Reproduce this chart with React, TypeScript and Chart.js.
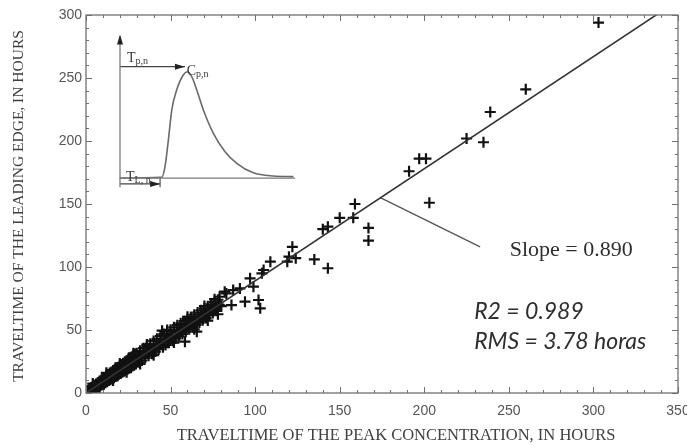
import React, { useEffect, useRef } from "react";
import { Chart, registerables } from "chart.js";

Chart.register(...registerables);

// ---- axis ranges / ticks ----
const xTickValues = [0, 50, 100, 150, 200, 250, 300, 350];
const yTickValues = [0, 50, 100, 150, 200, 250, 300];
const xTitle = "TRAVELTIME OF THE PEAK CONCENTRATION, IN HOURS";
const yTitle = "TRAVELTIME OF THE LEADING EDGE, IN HOURS";

// ---- observations: travel time of peak (x) vs leading edge (y), hours ----
const peakTime = [
  0.3, 0.8, 1, 1.5, 2, 2.5, 3, 3, 3.5, 4, 4.5, 5, 5.5, 6, 6.5, 7, 7.5, 8, 8.5, 9, 9, 9.5,
  10, 10.5, 11, 11.5, 12, 12.5, 13, 13.5, 14, 14.5, 15, 15, 15.5, 16, 16.5, 17, 17.5, 18,
  18.5, 19, 19.5, 20, 20.5, 21, 21, 21.5, 22, 22.5, 23, 23.5, 24, 24.5, 25, 25.5, 26,
  26.5, 27, 27, 27.5, 28, 28.5, 29, 29.5, 30, 31, 32, 33, 33, 34, 35, 36, 37, 38, 39, 39,
  40, 41, 42, 43, 44, 44, 45, 45.5, 46, 47, 48, 49, 50, 50, 51, 52, 53, 54, 55, 56, 56,
  57, 58, 58.5, 59, 60, 61, 62, 62, 63, 64, 65, 65.5, 66, 67, 68, 68, 69, 70, 71, 72,
  73, 74, 74, 75, 76, 77, 78, 79, 79, 80, 82, 83, 86, 87, 91, 94, 97, 99, 102, 103,
  104, 105, 109, 119, 120, 122, 124, 135, 140, 143, 143, 150, 158, 159, 167, 167, 191,
  197, 201, 203, 225, 235, 239, 260, 303,
  0.7, 2.2, 3.8, 5.2, 6.8, 8.3, 9.7, 11.2, 12.8, 14.3, 15.8, 17.2, 18.8, 20.3, 21.8, 23.3,
  24.8, 26.2, 27.8, 29.3, 30.6, 31.8, 33.2, 34.6, 36.1, 37.4, 38.7, 40.2, 41.6, 43.1, 44.6,
  46.2, 47.7, 49.2, 50.8, 52.3, 53.8, 55.4, 56.9, 58.4, 60.0, 61.5, 63.1, 64.6, 66.2, 67.7,
  69.3, 70.8, 72.4, 73.9, 75.5, 77.0, 78.5,
  4, 8, 12, 16, 20, 24, 28, 32, 36, 40, 48, 52, 60, 64, 70, 72, 76, 78,
];
const leadingEdge = [
  0.2, 1.2, 1.9, 0.4, 3.1, 1.0, 4.2, 2.8, 1.8, 5.0, 2.6, 6.1, 3.4, 7.2, 4.1, 8.3, 4.9,
  9.6, 5.8, 10.4, 8.1, 6.5, 11.8, 7.3, 12.4, 8.2, 13.9, 9.0, 14.6, 9.9, 15.8, 10.6, 16.7,
  13.2, 11.5, 17.9, 12.2, 18.6, 13.1, 19.8, 13.9, 20.5, 14.8, 21.9, 15.4, 22.6, 18.9,
  16.5, 23.7, 17.2, 24.8, 18.1, 25.5, 18.8, 26.9, 19.7, 27.6, 20.3, 28.8, 24.1, 21.4,
  29.7, 22.0, 30.9, 23.1, 31.6, 24.4, 33.5, 25.8, 29.4, 35.6, 27.9, 37.4, 29.6, 39.1,
  31.2, 34.8, 41.3, 32.9, 43.0, 34.8, 45.2, 39.3, 49.5, 36.4, 46.8, 38.1, 48.6, 39.9,
  50.2, 44.6, 41.5, 52.1, 43.4, 53.8, 45.0, 55.3, 49.8, 46.9, 57.0, 40.7, 48.6, 58.8,
  50.5, 60.4, 55.4, 52.3, 62.1, 54.0, 48.7, 63.8, 55.9, 65.6, 60.1, 57.8, 67.1, 59.6,
  68.9, 61.7, 70.4, 66.0, 63.5, 72.3, 65.2, 74.0, 76.4, 69.5, 68.9, 80.4, 79, 69.8, 81.7,
  83, 72.5, 91, 84.4, 73.8, 67.2, 95, 97.6, 104.2, 104.2, 108.2, 116, 107, 106, 130,
  132, 99, 139, 139, 150, 131, 121, 176, 186, 186, 151, 202, 199, 223, 241, 294,
  0.5, 2.0, 3.5, 4.4, 6.2, 7.3, 8.8, 9.8, 11.6, 12.5, 14.2, 15.1, 16.9, 17.8, 19.6, 20.5,
  22.3, 23.1, 24.9, 25.8, 27.6, 28.0, 29.9, 30.5, 32.4, 33.0, 34.9, 35.5, 37.4, 38.0, 40.0,
  40.8, 42.6, 43.3, 45.4, 46.1, 48.2, 48.9, 50.8, 51.6, 53.6, 54.3, 56.4, 57.1, 59.0, 59.9,
  61.8, 62.6, 64.6, 65.4, 67.3, 68.2, 70.2,
  7.5, 3.5, 16.0, 10.0, 23.5, 16.5, 31.5, 23.0, 38.5, 30.0, 50.0, 40.0, 60.5, 50.5, 69.0,
  57.5, 74.5, 62.5,
];

// ---- regression line (slope 0.890) ----
const fitX = [0, 338];
const fitY = [0, 300.8];

// ---- callout line from regression line to the slope label ----
const calloutX = [174, 233];
const calloutY = [155, 116];

// ---- inset sketch of a concentration curve, drawn in the main chart's units ----
const insetT = [20.1, 44.8, 46.7, 48.7, 50.7, 53.6, 57.5, 59.9, 62.5, 65.5, 69.4, 75.3, 82.2, 89.1, 98.9, 110.8, 122.6];
const insetC = [170.6, 171.2, 179.6, 200.8, 224.6, 240.5, 252.4, 255.0, 251.0, 240.5, 224.6, 206.1, 191.5, 182.3, 174.8, 172.2, 171.7];
const insetAxisT = [20.1, 20.1, 123.6];
const insetAxisC = [283, 170.6, 170.6];
const insetLeftDropT = [20.1, 20.1];
const insetLeftDropC = [170.6, 163.2];
const insetTpArrowT = [20.1, 58.5];
const insetTpArrowC = [259, 259];
const insetTlArrowT = [20.1, 43.8];
const insetTlArrowC = [165.9, 165.9];
const insetTlTickT = [43.8, 43.8];
const insetTlTickC = [170.6, 163.2];

// ---- annotation texts (anchor positions in data units) ----
const slopeText = "Slope = 0.890";
const slopeAt = [250.5, 113.5];
const r2Text = "R2 = 0.989";
const r2At = [229.5, 64.3];
const rmsText = "RMS = 3.78 horas";
const rmsAt = [229.5, 40.5];

const SERIF = '"Liberation Serif", "Times New Roman", serif';
const SANS = '"Liberation Sans", Arial, sans-serif';

function pts(xs: number[], ys: number[]) {
  return xs.map((x, i) => ({ x, y: ys[i] }));
}

function drawSub(ctx: CanvasRenderingContext2D, main: string, sub: string, x: number, y: number) {
  ctx.font = `14px ${SERIF}`;
  ctx.textAlign = "left";
  ctx.textBaseline = "alphabetic";
  ctx.fillText(main, x, y);
  const w = ctx.measureText(main).width;
  ctx.font = `10px ${SERIF}`;
  ctx.fillText(sub, x + w, y + 2);
}

function arrowHead(ctx: CanvasRenderingContext2D, x: number, y: number, dir: "right" | "up") {
  ctx.beginPath();
  if (dir === "right") {
    ctx.moveTo(x, y);
    ctx.lineTo(x - 10, y - 3);
    ctx.lineTo(x - 10, y + 3);
  } else {
    ctx.moveTo(x, y);
    ctx.lineTo(x - 3, y + 10);
    ctx.lineTo(x + 3, y + 10);
  }
  ctx.closePath();
  ctx.fill();
}

const framePlugin = {
  id: "framePlugin",
  afterDraw(chart: any) {
    const { ctx, chartArea: a, scales } = chart;
    const xs = scales.x;
    const ys = scales.y;
    ctx.save();
    // frame
    ctx.strokeStyle = "#707070";
    ctx.lineWidth = 1.3;
    ctx.strokeRect(a.left, a.top, a.right - a.left, a.bottom - a.top);
    // inward ticks
    ctx.lineWidth = 1;
    ctx.beginPath();
    for (let v = 0; v <= 350; v += 10) {
      const p = Math.round(xs.getPixelForValue(v)) + 0.5;
      const len = v % 50 === 0 ? 6 : 3;
      ctx.moveTo(p, a.bottom);
      ctx.lineTo(p, a.bottom - len);
      ctx.moveTo(p, a.top);
      ctx.lineTo(p, a.top + len);
    }
    for (let v = 0; v <= 300; v += 10) {
      const p = Math.round(ys.getPixelForValue(v)) + 0.5;
      const len = v % 50 === 0 ? 6 : 3;
      ctx.moveTo(a.left, p);
      ctx.lineTo(a.left + len, p);
      ctx.moveTo(a.right, p);
      ctx.lineTo(a.right - len, p);
    }
    ctx.stroke();

    // axis titles
    ctx.fillStyle = "#404040";
    ctx.font = `16.5px ${SERIF}`;
    ctx.textAlign = "center";
    ctx.textBaseline = "middle";
    ctx.fillText(xTitle, 396, 436);
    ctx.font = `15.5px ${SERIF}`;
    ctx.save();
    ctx.translate(19, 206);
    ctx.rotate(-Math.PI / 2);
    ctx.fillText(yTitle, 0, 0);
    ctx.restore();

    // inset arrows and labels
    ctx.fillStyle = "#222";
    const ax = xs.getPixelForValue(insetAxisT[0]);
    arrowHead(ctx, ax, ys.getPixelForValue(insetAxisC[0]) - 2, "up");
    arrowHead(ctx, xs.getPixelForValue(insetTpArrowT[1]), ys.getPixelForValue(insetTpArrowC[1]), "right");
    arrowHead(ctx, xs.getPixelForValue(insetTlArrowT[1]), ys.getPixelForValue(insetTlArrowC[1]), "right");
    ctx.fillStyle = "#3a3a3a";
    drawSub(ctx, "T", "p,n", ax + 7, ys.getPixelForValue(insetTpArrowC[0]) - 5);
    drawSub(ctx, "C", "p,n", xs.getPixelForValue(59.5), ys.getPixelForValue(252.5));
    drawSub(ctx, "T", "L, n", ax + 6, ys.getPixelForValue(insetTlArrowC[0]) - 3);

    // annotations
    ctx.fillStyle = "#2e2e2e";
    ctx.textAlign = "left";
    ctx.textBaseline = "middle";
    ctx.font = `22px ${SERIF}`;
    ctx.fillText(slopeText, xs.getPixelForValue(slopeAt[0]), ys.getPixelForValue(slopeAt[1]));
    ctx.font = `italic 23px Lato, "Open Sans", sans-serif`;
    ctx.fillText(r2Text, xs.getPixelForValue(r2At[0]), ys.getPixelForValue(r2At[1]));
    ctx.fillText(rmsText, xs.getPixelForValue(rmsAt[0]), ys.getPixelForValue(rmsAt[1]));
    ctx.restore();
  },
};

export default function App() {
  const ref = useRef<HTMLCanvasElement | null>(null);
  useEffect(() => {
    if (!ref.current) return;
    const lineDs = (xs: number[], ys: number[], color: string, width: number, extra: any = {}) => ({
      data: pts(xs, ys),
      showLine: true,
      borderColor: color,
      backgroundColor: color,
      borderWidth: width,
      pointRadius: 0,
      ...extra,
    });
    const chart = new Chart(ref.current, {
      type: "scatter",
      data: {
        datasets: [
          lineDs(fitX, fitY, "#333333", 1.6),
          lineDs(calloutX, calloutY, "#555555", 1.3),
          lineDs(insetAxisT, insetAxisC, "#7a7a7a", 1.3),
          lineDs(insetLeftDropT, insetLeftDropC, "#7a7a7a", 1.3),
          lineDs(insetTpArrowT, insetTpArrowC, "#444444", 1.2),
          lineDs(insetTlArrowT, insetTlArrowC, "#444444", 1.2),
          lineDs(insetTlTickT, insetTlTickC, "#555555", 1.2),
          lineDs(insetT, insetC, "#6a6a6a", 1.6, { cubicInterpolationMode: "monotone" }),
          {
            data: pts(peakTime, leadingEdge),
            pointStyle: "cross",
            pointRadius: 5.5,
            borderWidth: 2.2,
            borderColor: "#111111",
            backgroundColor: "#111111",
            showLine: false,
          },
        ],
      },
      options: {
        animation: false,
        responsive: true,
        maintainAspectRatio: false,
        events: [],
        layout: { padding: { top: 15, right: 9, left: 0, bottom: 0 } },
        plugins: { legend: { display: false }, tooltip: { enabled: false } },
        scales: {
          x: {
            type: "linear",
            min: 0,
            max: 350,
            afterBuildTicks: (s: any) => {
              s.ticks = xTickValues.map((v) => ({ value: v }));
            },
            afterFit: (s: any) => {
              s.height = 52;
              s.paddingLeft = 0;
              s.paddingRight = 0;
            },
            grid: { display: false, drawTicks: false },
            border: { display: false },
            ticks: {
              padding: 10,
              maxRotation: 0,
              color: "#555",
              font: { family: SANS, size: 14 },
            },
          },
          y: {
            type: "linear",
            min: 0,
            max: 300,
            afterBuildTicks: (s: any) => {
              s.ticks = yTickValues.map((v) => ({ value: v }));
            },
            afterFit: (s: any) => {
              s.width = 86;
            },
            grid: { display: false, drawTicks: false },
            border: { display: false },
            ticks: {
              padding: 4,
              color: "#555",
              font: { family: SANS, size: 14 },
            },
          },
        },
      },
      plugins: [framePlugin],
    });
    return () => chart.destroy();
  }, []);
  return (
    <div style={{ position: "fixed", left: 0, top: 0, width: 687, height: 445, background: "#fff" }}>
      <canvas ref={ref} />
    </div>
  );
}
